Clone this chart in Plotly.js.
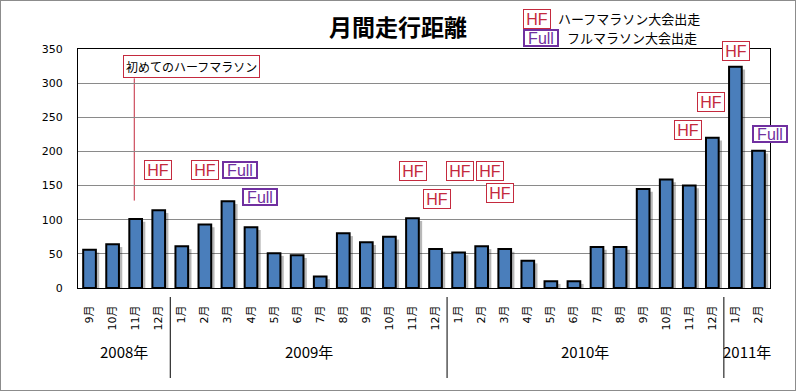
<!DOCTYPE html>
<html><head><meta charset="utf-8">
<script src="https://cdn.plot.ly/plotly-3.0.1.min.js"></script>
<style>html,body{margin:0;padding:0;background:#fff}#c{width:794px;height:389px;border:1px solid #8c8c8c}</style>
</head><body><div id="c"></div>
<script>
// Data
const months = ["9月","10月","11月","12月","1月","2月","3月","4月","5月","6月","7月","8月","9月","10月","11月","12月","1月","2月","3月","4月","5月","6月","7月","8月","9月","10月","11月","12月","1月","2月"];
const distance = [56,64,101,114,61,93,127,89,51,48,17,80,67,75,102,57,52,61,57,40,10,10,60,60,145,159,150,220,324,201];
const years = ["2008年","2009年","2010年","2011年"];
const yearStart = [0,4,16,28];
const yearEnd = [3,15,27,29];
// event labels: text, x index position, y value position
const eventText = ["HF","HF","Full","Full","HF","HF","HF","HF","HF","HF","HF","HF","Full"];
const eventX = [2.97,5.0,6.52,7.37,14.02,16.06,17.36,15.06,17.79,25.96,26.94,28.02,29.5];
const eventY = [172.5,172.5,172.5,133.5,171,171,171,131,138.7,232,273,346.8,225.4];

const idx = months.map((m,i)=>i);
const RED = "#c42a3e", PUR = "#7030a0";
const JP = "Noto Sans CJK JP, sans-serif";
const LAT = "Liberation Sans, Arial, sans-serif";

const shadow = {
  type:"bar", x: idx.map(i=>i+0.13), y: distance.map(v=>Math.max(v-4,0)), width: 0.58,
  marker:{color:"rgba(0,0,0,0.28)", line:{width:0}}, hoverinfo:"skip"
};
const trace = {
  type:"bar", x: idx, y: distance, width: 0.55,
  marker:{color:"#4a7ebb", line:{color:"#000", width:2}},
  hoverinfo:"y"
};

const L=77, R=25, T=48, B=102;
const W=794-L-R, H=389-T-B;
const px = v => (v-1-L)/W;          // page px -> paper x
const py = v => (389-B-(v-1))/H;    // page px -> paper y

const annotations = [];
function tag(xref, yref, x, y, t){
  const hf = t==="HF";
  return {xref, yref, x, y, xanchor:"center", yanchor:"middle", text:t, showarrow:false,
    font:{family:LAT, size:16, color: hf?RED:PUR}, bgcolor:"#fff",
    bordercolor: hf?RED:PUR, borderwidth: hf?1:2, borderpad:0,
    width: hf?26:32, height: hf?18:14};
}
eventText.forEach((t,i)=>annotations.push(tag("x","y",eventX[i],eventY[i],t)));
// first half marathon note
annotations.push({xref:"x", yref:"y", x:4.44, y:324, xanchor:"center", yanchor:"middle", text:"初めてのハーフマラソン", showarrow:false,
  font:{family:JP, size:12, color:"#000"}, bgcolor:"#fff", bordercolor:RED, borderwidth:1, borderpad:2});
// legend
annotations.push(tag("paper","paper",px(537),py(19.5),"HF"));
annotations.push({xref:"paper", yref:"paper", x:px(556), xanchor:"left", y:py(18), yanchor:"middle", text:"ハーフマラソン大会出走", showarrow:false,
  font:{family:JP, size:13, color:"#000"}});
annotations.push(tag("paper","paper",px(541),py(37.5),"Full"));
annotations.push({xref:"paper", yref:"paper", x:px(565), xanchor:"left", y:py(37), yanchor:"middle", text:"フルマラソン大会出走", showarrow:false,
  font:{family:JP, size:13, color:"#000"}});
// year labels
years.forEach((y,i)=>{
  annotations.push({xref:"x", yref:"paper", x:(yearStart[i]+yearEnd[i])/2, y:py(351), xanchor:"center", yanchor:"middle", text:y, showarrow:false,
    font:{family:JP, size:15, color:"#000"}});
});

const shapes = [];
for(let i=1;i<yearStart.length;i++){
  shapes.push({type:"line", xref:"x", yref:"paper", x0:yearStart[i]-0.5, x1:yearStart[i]-0.5, y0:py(297), y1:py(378),
    line:{color:"#000", width:1}});
}
shapes.push({type:"line", xref:"x", yref:"y", x0:1.94, x1:1.94, y0:128, y1:307, line:{color:RED, width:1}, layer:"below"});

const layout = {
  width:794, height:389, margin:{l:L, r:R, t:T, b:B},
  paper_bgcolor:"#fff", plot_bgcolor:"#fff", showlegend:false, barmode:"overlay",
  title:{text:"<b>月間走行距離</b>", font:{family:JP, size:23, color:"#000"}, x:398/796, xanchor:"center", y:1-27/391, yanchor:"middle"},
  xaxis:{range:[-0.5,29.5], tickmode:"array", tickvals:idx, ticktext:months, tickangle:-90,
    tickfont:{family:"DejaVu Sans, "+JP, size:11, color:"#000"}, ticks:"", ticklabelstandoff:12,
    showline:true, linecolor:"#000", linewidth:1, mirror:true, showgrid:false, zeroline:false, fixedrange:true},
  yaxis:{range:[0,350], dtick:50, tickfont:{family:"DejaVu Sans", size:11, color:"#000"}, ticks:"", ticklabelstandoff:12,
    showline:true, linecolor:"#000", linewidth:1, mirror:true, showgrid:true, gridcolor:"#8a8a8a", gridwidth:1, zeroline:false, fixedrange:true},
  annotations:annotations, shapes:shapes
};
Plotly.newPlot("c",[shadow, trace],layout,{displayModeBar:false, staticPlot:true});
</script></body></html>
